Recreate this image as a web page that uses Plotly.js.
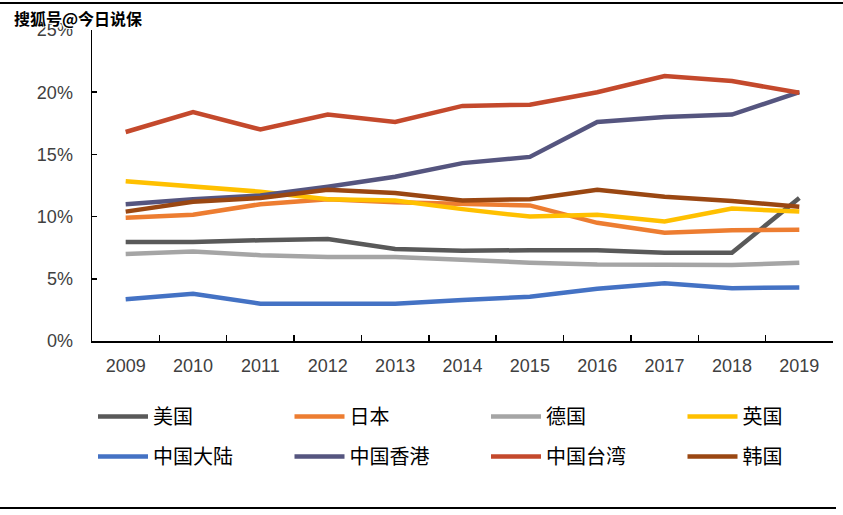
<!DOCTYPE html>
<html><head><meta charset="utf-8">
<script src="https://cdn.plot.ly/plotly-3.0.1.min.js"></script>
<style>html,body{margin:0;padding:0;background:#fff}#chart{width:843px;height:515px}</style>
</head><body><div id="chart"></div>
<script>
const years = ['2009','2010','2011','2012','2013','2014','2015','2016','2017','2018','2019'];
const names = ['美国','日本','德国','英国','中国大陆','中国香港','中国台湾','韩国'];
const colors = ['#595959','#ED7D31','#A5A5A5','#FFC000','#4472C4','#55557F','#C4492C','#9A4712'];
const usa      = [7.95, 7.95, 8.1, 8.2, 7.4, 7.25, 7.3, 7.3, 7.1, 7.1, 11.5];
const japan    = [9.9, 10.15, 11.0, 11.4, 11.15, 11.0, 10.9, 9.5, 8.7, 8.9, 8.95];
const germany  = [7.0, 7.2, 6.9, 6.75, 6.75, 6.5, 6.3, 6.15, 6.1, 6.1, 6.3];
const uk       = [12.85, 12.4, 12.0, 11.4, 11.3, 10.6, 10.0, 10.15, 9.6, 10.65, 10.4];
const mainland = [3.35, 3.8, 3.0, 3.0, 3.0, 3.3, 3.55, 4.2, 4.65, 4.25, 4.3];
const hongkong = [11.0, 11.4, 11.7, 12.4, 13.2, 14.3, 14.8, 17.6, 18.0, 18.2, 20.0];
const taiwan   = [16.8, 18.4, 17.0, 18.2, 17.6, 18.9, 19.0, 20.0, 21.3, 20.9, 19.95];
const korea    = [10.4, 11.2, 11.5, 12.15, 11.9, 11.3, 11.4, 12.15, 11.6, 11.25, 10.8];
const yTicks = [0, 5, 10, 15, 20, 25];
const yTickLabels = ['0%', '5%', '10%', '15%', '20%', '25%'];
const series = [usa, japan, germany, uk, mainland, hongkong, taiwan, korea];

const W = 843, H = 515;
const M = {l: 92, r: 10, t: 30, b: 174};
const pw = W - M.l - M.r, ph = H - M.t - M.b;
const px = x => (x - M.l) / pw;
const py = y => (H - M.b - y) / ph;

const legendIds = series.map((s, i) => i === 0 ? 'legend' : 'legend' + (i + 1));
const traces = series.map((s, i) => ({
  type: 'scatter', mode: 'lines', x: years, y: s, name: names[i],
  legend: legendIds[i],
  line: {color: colors[i], width: 4.5}, hoverinfo: 'skip'
}));

const layout = {
  width: W, height: H, margin: M,
  paper_bgcolor: '#fff', plot_bgcolor: '#fff',
  showlegend: true,
  font: {family: 'Liberation Sans, Arial, sans-serif', color: '#404040'},
  xaxis: {
    type: 'category', range: [-0.5, 10.5], showgrid: false, zeroline: false,
    showline: true, linecolor: '#000', linewidth: 1.5,
    ticks: 'inside', tickson: 'boundaries', ticklen: 6, tickcolor: '#000', tickwidth: 1.5,
    tickfont: {size: 18, color: '#404040'}, ticklabelstandoff: 8
  },
  yaxis: {
    range: [0, 25], tickmode: 'array', tickvals: yTicks, ticktext: yTickLabels,
    showgrid: false, zeroline: false,
    showline: true, linecolor: '#000', linewidth: 1.5,
    ticks: 'inside', ticklen: 5, tickcolor: '#000', tickwidth: 1.5,
    tickfont: {size: 18, color: '#404040'}, ticklabelstandoff: 14
  },
  shapes: [
    {type: 'line', xref: 'paper', yref: 'paper', x0: px(0), x1: px(843), y0: py(3), y1: py(3), line: {color: '#000', width: 2}},
    {type: 'line', xref: 'paper', yref: 'paper', x0: px(0), x1: px(836), y0: py(508), y1: py(508), line: {color: '#000', width: 2}}
  ],
  annotations: [
    {text: '搜狐号@今日说保', xref: 'paper', yref: 'paper', x: px(12), y: py(18), xanchor: 'left', yanchor: 'middle',
     showarrow: false, font: {family: 'Noto Sans CJK SC, sans-serif', size: 16, color: '#000', weight: 700, shadow: '1px 1px 0 #fff, -1px -1px 0 #fff, 1px -1px 0 #fff, -1px 1px 0 #fff'}}
  ]
};
const colX = [93, 289.5, 486, 682.5];
const rowTop = [397, 437];
legendIds.forEach((id, i) => {
  layout[id] = {
    orientation: 'h', xref: 'container', yref: 'container',
    x: colX[i % 4] / W, y: 1 - rowTop[Math.floor(i / 4)] / H,
    xanchor: 'left', yanchor: 'top', itemwidth: 50,
    font: {family: 'Noto Sans CJK SC, sans-serif', size: 20, color: '#000'},
    bgcolor: 'rgba(0,0,0,0)'
  };
});
Plotly.newPlot('chart', traces, layout, {staticPlot: true});
</script></body></html>
